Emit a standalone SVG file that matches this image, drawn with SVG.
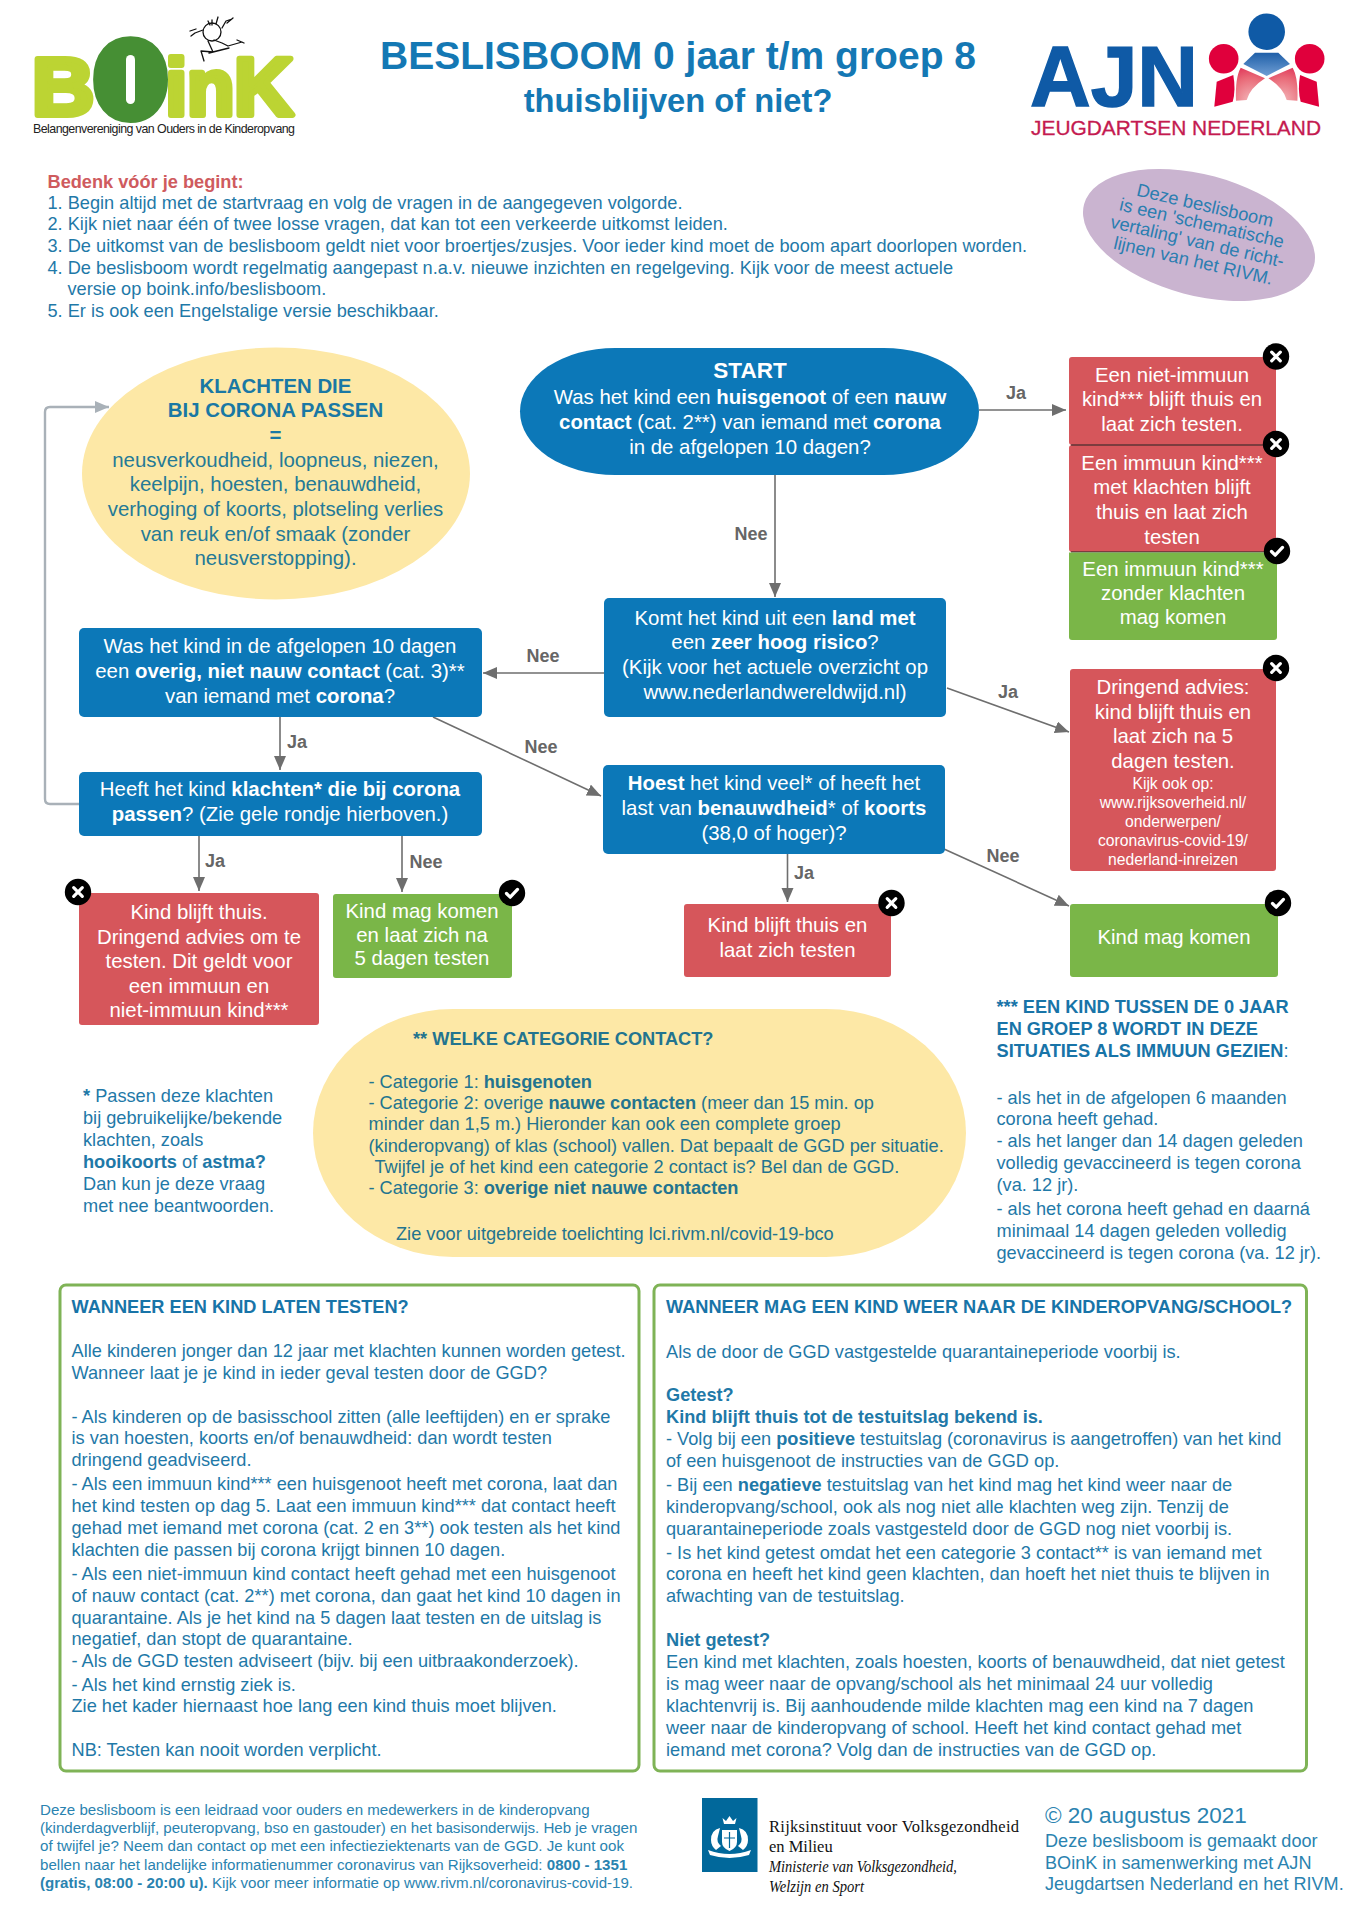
<svg xmlns="http://www.w3.org/2000/svg" width="1357" height="1920" viewBox="0 0 1357 1920">
<style>
text{font-family:"Liberation Sans",Arial,sans-serif}
.b{font-weight:700}
.n{font-size:20.4px;fill:#fff;text-anchor:middle}
.s{font-size:15.7px;fill:#fff;text-anchor:middle}
.y{font-size:20.4px;fill:#257a96;text-anchor:middle}
.yh{font-weight:700;fill:#1a78a4}
.t{font-size:18.2px;fill:#1f79a8}
.ty{font-size:18.2px;fill:#23748f}
.h{font-size:18.2px;font-weight:700;fill:#1874a8}
.f{font-size:15.1px;fill:#2a83b0}
.c{font-size:18.1px;fill:#2a83b0}
.l{font-size:18px;font-weight:700;fill:#666;text-anchor:middle}
.nt{font-size:18.2px;fill:#2b7eb0;text-anchor:middle}
.blue{fill:#0c78b8}.red{fill:#d6565b}.green{fill:#7ab648}.yel{fill:#fde8a6}
.cn{fill:none;stroke:#6e6e6e;stroke-width:1.6;marker-end:url(#a)}
.lp{fill:none;stroke:#a9b1b8;stroke-width:2.4;marker-end:url(#g)}
.bd{fill:#000}
.x{fill:none;stroke:#fff;stroke-width:3.2;stroke-linecap:round}
.v{fill:none;stroke:#fff;stroke-width:3.2;stroke-linecap:round;stroke-linejoin:round}
.p{fill:#fff;stroke:#7fb356;stroke-width:3}
.rv{font-family:"Liberation Serif",serif;font-size:16.5px;fill:#111}
.lime{fill:#bcd433;stroke:#bcd433;stroke-width:6;font-weight:700;stroke-linejoin:round}
</style>
<defs>
<marker id="a" markerUnits="userSpaceOnUse" markerWidth="16" markerHeight="14" refX="14" refY="6" orient="auto"><path d="M0 0L14 6L0 12Z" fill="#6e6e6e"/></marker>
<marker id="g" markerUnits="userSpaceOnUse" markerWidth="16" markerHeight="14" refX="14" refY="6" orient="auto"><path d="M0 0L14 6L0 12Z" fill="#a9b1b8"/></marker>
<symbol id="no" overflow="visible"><circle r="13.2" class="bd"/><path d="M-4.3-4.3L4.3 4.3M4.3-4.3L-4.3 4.3" class="x"/></symbol>
<symbol id="ok" overflow="visible"><circle r="13.2" class="bd"/><path d="M-5.5 .5L-1.8 4.2L5.5-3.6" class="v"/></symbol>
<linearGradient id="bg" x1="0" y1="0" x2="0" y2="1"><stop offset="0" stop-color="#1f5fa8"/><stop offset="1" stop-color="#6f9ed4"/></linearGradient>
<radialGradient id="pg" cx=".5" cy="1" r="1"><stop offset="0" stop-color="#f3b5b8"/><stop offset=".7" stop-color="#e96a78"/><stop offset="1" stop-color="#e2405f"/></radialGradient>
</defs>
<rect width="1357" height="1920" fill="#fff"/>

<g id="logo-boink">
<text class="lime" transform="translate(32 115) scale(1.05 1)" font-size="82">B</text>
<text class="lime" transform="translate(165.5 115) scale(.97 1)" font-size="80">in</text>
<text class="lime" transform="translate(234 115)" font-size="82">K</text>
<text transform="translate(101.5 109) scale(.88 1)" font-size="85" font-weight="700" fill="#468f34" stroke="#468f34" stroke-width="26" stroke-linejoin="round">O</text>
<rect x="126" y="55" width="9" height="49" rx="4.5" fill="#fff"/>
<g fill="none" stroke="#111" stroke-width="1.3" stroke-linejoin="round" stroke-linecap="round">
<circle cx="212" cy="32" r="9"/>
<path d="M203 30L195 33L191 36M196 29L190 31M222 28L226 21L232 19M227 23L233 18M214 40L222 43L228 46L242 42M208 41L213 52L201 51L204 61M209 53L221 50L229 48M237 40L244 43M218 17L216 24M212 20L212 25M208 21L210 25"/>
</g>
<text x="33" y="133" font-size="12.4" fill="#222" textLength="262">Belangenvereniging van Ouders in de Kinderopvang</text>
</g>

<g id="logo-ajn">
<text class="b" x="1030" y="106" font-size="86" fill="#0f5aa6" stroke="#0f5aa6" stroke-width="1.5" textLength="168" lengthAdjust="spacingAndGlyphs">AJN</text>
<text x="1031" y="135" font-size="20" fill="#c41a50" stroke="#c41a50" stroke-width=".3" textLength="290" lengthAdjust="spacingAndGlyphs">JEUGDARTSEN NEDERLAND</text>
<circle cx="1266.7" cy="31.7" r="18.3" fill="#0f5aa6"/>
<circle cx="1223.7" cy="58.7" r="14.8" fill="#e0003c"/>
<circle cx="1309.7" cy="58.7" r="14.8" fill="#e0003c"/>
<path d="M1243.3 64L1255 52.7H1278.3L1290 64L1266.7 76Z" fill="url(#bg)"/>
<path d="M1236 100.7Q1235 78 1240.7 67.7L1265 78.3Q1250 88 1246.7 100Z" fill="url(#pg)"/>
<path d="M1297.4 100.7Q1298.4 78 1292.7 67.7L1268.4 78.3Q1283.4 88 1286.7 100Z" fill="url(#pg)"/>
<path d="M1214.3 106.7L1216.7 81.7L1233.3 75Q1236 90 1232.7 101.7Z" fill="#e0003c"/>
<path d="M1319.1 106.7L1316.7 81.7L1300.1 75Q1297.4 90 1300.7 101.7Z" fill="#e0003c"/>
</g>

<g id="title" text-anchor="middle" fill="#1478b4" font-weight="700">
<text x="678" y="69" font-size="39">BESLISBOOM 0 jaar t/m groep 8</text>
<text x="678" y="112" font-size="32.7">thuisblijven of niet?</text>
</g>

<g id="intro">
<text x="47.5" y="187.5" class="b" font-size="18.2" fill="#cf5b5e">Bedenk vóór je begint:</text>
<text class="t" x="47.5" y="208.5">1. Begin altijd met de startvraag en volg de vragen in de aangegeven volgorde.</text>
<text class="t" x="47.5" y="230">2. Kijk niet naar één of twee losse vragen, dat kan tot een verkeerde uitkomst leiden.</text>
<text class="t" x="47.5" y="251.5">3. De uitkomst van de beslisboom geldt niet voor broertjes/zusjes. Voor ieder kind moet de boom apart doorlopen worden.</text>
<text class="t" x="47.5" y="273.5">4. De beslisboom wordt regelmatig aangepast n.a.v. nieuwe inzichten en regelgeving. Kijk voor de meest actuele</text>
<text class="t" x="67.5" y="295">versie op boink.info/beslisboom.</text>
<text class="t" x="47.5" y="317">5. Er is ook een Engelstalige versie beschikbaar.</text>
</g>

<g id="rivm-note">
<ellipse cx="1199" cy="235" rx="119" ry="60.5" transform="rotate(15 1199 235)" fill="#cab4d0"/>
<text class="nt" transform="translate(1203.7 211.3) rotate(13)">Deze beslisboom</text>
<text class="nt" transform="translate(1200.5 229) rotate(13)">is een 'schematische</text>
<text class="nt" transform="translate(1196 247.5) rotate(13)">vertaling' van de richt-</text>
<text class="nt" transform="translate(1192 266.7) rotate(13)">lijnen van het RIVM.</text>
</g>

<g id="connectors">
<path class="cn" d="M979 410H1066"/>
<path class="cn" d="M775 475V597"/>
<path class="cn" d="M604 673H483"/>
<path class="cn" d="M433 717L601 796"/>
<path class="cn" d="M280 717V770"/>
<path class="lp" d="M79 804H50Q45 804 45 799V412Q45 407 50 407H109"/>
<path class="cn" d="M199 836V891"/>
<path class="cn" d="M402 836V892"/>
<path class="cn" d="M947 688L1069 732"/>
<path class="cn" d="M787.5 854V902"/>
<path class="cn" d="M944 849L1069 906"/>
<text class="l" x="1016" y="399">Ja</text>
<text class="l" x="751" y="540">Nee</text>
<text class="l" x="543" y="662">Nee</text>
<text class="l" x="1008" y="698">Ja</text>
<text class="l" x="541" y="753">Nee</text>
<text class="l" x="297" y="748">Ja</text>
<text class="l" x="1003" y="862">Nee</text>
<text class="l" x="804" y="879">Ja</text>
<text class="l" x="215" y="867">Ja</text>
<text class="l" x="426" y="868">Nee</text>
</g>

<g id="klachten">
<ellipse class="yel" cx="276" cy="473.5" rx="194" ry="126"/>
<text class="y yh" x="275.5" y="392.5">KLACHTEN DIE</text>
<text class="y yh" x="275.5" y="417">BIJ CORONA PASSEN</text>
<text class="y yh" x="275.5" y="442">=</text>
<text class="y" x="275.5" y="466.5">neusverkoudheid, loopneus, niezen,</text>
<text class="y" x="275.5" y="491">keelpijn, hoesten, benauwdheid,</text>
<text class="y" x="275.5" y="516">verhoging of koorts, plotseling verlies</text>
<text class="y" x="275.5" y="540.5">van reuk en/of smaak (zonder</text>
<text class="y" x="275.5" y="565">neusverstopping).</text>
</g>

<g id="start">
<rect class="blue" x="520" y="348" width="459" height="127" rx="95" ry="63.5"/>
<text class="n b" x="750" y="378" style="font-size:22.5px">START</text>
<text class="n" x="750" y="404">Was het kind een <tspan class="b">huisgenoot</tspan> of een <tspan class="b">nauw</tspan></text>
<text class="n" x="750" y="429"><tspan class="b">contact</tspan> (cat. 2**) van iemand met <tspan class="b">corona</tspan></text>
<text class="n" x="750" y="454">in de afgelopen 10 dagen?</text>
</g>

<g id="overig">
<rect class="blue" x="79" y="628" width="403" height="89" rx="5"/>
<text class="n" x="280" y="653">Was het kind in de afgelopen 10 dagen</text>
<text class="n" x="280" y="678">een <tspan class="b">overig, niet nauw contact</tspan> (cat. 3)**</text>
<text class="n" x="280" y="702.5">van iemand met <tspan class="b">corona</tspan>?</text>
</g>

<g id="klachten-vraag">
<rect class="blue" x="79" y="772" width="403" height="64" rx="5"/>
<text class="n" x="280" y="796">Heeft het kind <tspan class="b">klachten* die bij corona</tspan></text>
<text class="n" x="280" y="820.5"><tspan class="b">passen</tspan>? (Zie gele rondje hierboven.)</text>
</g>

<g id="thuis-dringend">
<rect class="red" x="79" y="893" width="240" height="132" rx="3"/>
<text class="n" x="199" y="919">Kind blijft thuis.</text>
<text class="n" x="199" y="943.5">Dringend advies om te</text>
<text class="n" x="199" y="968">testen. Dit geldt voor</text>
<text class="n" x="199" y="992.5">een immuun en</text>
<text class="n" x="199" y="1017">niet-immuun kind***</text>
<use href="#no" x="78" y="892"/>
</g>

<g id="mag-testen">
<rect class="green" x="333" y="894" width="179" height="84" rx="3"/>
<text class="n" x="422" y="917.5">Kind mag komen</text>
<text class="n" x="422" y="941.5">en laat zich na</text>
<text class="n" x="422" y="965">5 dagen testen</text>
<use href="#ok" x="512" y="893"/>
</g>

<g id="land">
<rect class="blue" x="604" y="598" width="342" height="119" rx="5"/>
<text class="n" x="775" y="624.5">Komt het kind uit een <tspan class="b">land met</tspan></text>
<text class="n" x="775" y="649">een <tspan class="b">zeer hoog risico</tspan>?</text>
<text class="n" x="775" y="674">(Kijk voor het actuele overzicht op</text>
<text class="n" x="775" y="698.5">www.nederlandwereldwijd.nl)</text>
</g>

<g id="hoest">
<rect class="blue" x="603" y="765" width="342" height="89" rx="5"/>
<text class="n" x="774" y="790"><tspan class="b">Hoest</tspan> het kind veel* of heeft het</text>
<text class="n" x="774" y="815">last van <tspan class="b">benauwdheid</tspan>* of <tspan class="b">koorts</tspan></text>
<text class="n" x="774" y="839.5">(38,0 of hoger)?</text>
</g>

<g id="thuis-testen">
<rect class="red" x="684" y="904" width="207" height="73" rx="3"/>
<text class="n" x="787.5" y="932">Kind blijft thuis en</text>
<text class="n" x="787.5" y="957">laat zich testen</text>
<use href="#no" x="891.5" y="903"/>
</g>

<g id="niet-immuun">
<rect class="red" x="1069" y="357" width="207" height="88" rx="3"/>
<text class="n" x="1172" y="382">Een niet-immuun</text>
<text class="n" x="1172" y="406">kind*** blijft thuis en</text>
<text class="n" x="1172" y="430.5">laat zich testen.</text>
</g>
<g id="immuun-klachten">
<rect class="red" x="1069" y="445" width="207" height="107" rx="3"/>
<path d="M1071 445H1276M1071 552H1276" stroke="#222" stroke-width="1" fill="none"/>
<text class="n" x="1172" y="470">Een immuun kind***</text>
<text class="n" x="1172" y="494">met klachten blijft</text>
<text class="n" x="1172" y="519">thuis en laat zich</text>
<text class="n" x="1172" y="544">testen</text>
</g>
<g id="immuun-geen">
<path class="green" d="M1069 552.5H1277V637a3 3 0 0 1-3 3H1072a3 3 0 0 1-3-3Z"/>
<text class="n" x="1173" y="576">Een immuun kind***</text>
<text class="n" x="1173" y="600">zonder klachten</text>
<text class="n" x="1173" y="624">mag komen</text>
</g>
<g id="badges-rechts">
<use href="#no" x="1276" y="356.5"/>
<use href="#no" x="1276" y="444"/>
<use href="#ok" x="1277" y="551"/>
</g>

<g id="dringend">
<rect class="red" x="1070" y="669" width="206" height="202" rx="3"/>
<text class="n" x="1173" y="694">Dringend advies:</text>
<text class="n" x="1173" y="718.5">kind blijft thuis en</text>
<text class="n" x="1173" y="743">laat zich na 5</text>
<text class="n" x="1173" y="767.5">dagen testen.</text>
<text class="s" x="1173" y="788.5">Kijk ook op:</text>
<text class="s" x="1173" y="807.5">www.rijksoverheid.nl/</text>
<text class="s" x="1173" y="826.5">onderwerpen/</text>
<text class="s" x="1173" y="845.5">coronavirus-covid-19/</text>
<text class="s" x="1173" y="864.5">nederland-inreizen</text>
<use href="#no" x="1276" y="668"/>
</g>

<g id="mag-komen">
<rect class="green" x="1070" y="904" width="208" height="73" rx="3"/>
<text class="n" x="1174" y="944">Kind mag komen</text>
<use href="#ok" x="1278" y="903"/>
</g>

<g id="categorie">
<rect class="yel" x="313" y="1009" width="653" height="248" rx="140" ry="124"/>
<text class="ty b" x="413" y="1044.5">** WELKE CATEGORIE CONTACT?</text>
<text class="ty" x="368.5" y="1088">- Categorie 1: <tspan class="b">huisgenoten</tspan></text>
<text class="ty" x="368.5" y="1109">- Categorie 2: overige <tspan class="b">nauwe contacten</tspan> (meer dan 15 min. op</text>
<text class="ty" x="368.5" y="1130">minder dan 1,5 m.) Hieronder kan ook een complete groep</text>
<text class="ty" x="368.5" y="1151.5">(kinderopvang) of klas (school) vallen. Dat bepaalt de GGD per situatie.</text>
<text class="ty" x="374.5" y="1172.5">Twijfel je of het kind een categorie 2 contact is? Bel dan de GGD.</text>
<text class="ty" x="368.5" y="1193.5">- Categorie 3: <tspan class="b">overige niet nauwe contacten</tspan></text>
<text class="ty" x="396" y="1239.5">Zie voor uitgebreide toelichting lci.rivm.nl/covid-19-bco</text>
</g>

<g id="noot-hooikoorts">
<text class="t" x="83" y="1102"><tspan class="b">*</tspan> Passen deze klachten</text>
<text class="t" x="83" y="1124">bij gebruikelijke/bekende</text>
<text class="t" x="83" y="1146">klachten, zoals</text>
<text class="t" x="83" y="1168"><tspan class="b">hooikoorts</tspan> of <tspan class="b">astma?</tspan></text>
<text class="t" x="83" y="1190">Dan kun je deze vraag</text>
<text class="t" x="83" y="1212">met nee beantwoorden.</text>
</g>

<g id="noot-immuun">
<text class="h" x="996.5" y="1013">*** EEN KIND TUSSEN DE 0 JAAR</text>
<text class="h" x="996.5" y="1035">EN GROEP 8 WORDT IN DEZE</text>
<text class="h" x="996.5" y="1057">SITUATIES ALS IMMUUN GEZIEN<tspan style="font-weight:400">:</tspan></text>
<text class="t" x="996.5" y="1103.5">- als het in de afgelopen 6 maanden</text>
<text class="t" x="996.5" y="1125">corona heeft gehad.</text>
<text class="t" x="996.5" y="1147">- als het langer dan 14 dagen geleden</text>
<text class="t" x="996.5" y="1169">volledig gevaccineerd is tegen corona</text>
<text class="t" x="996.5" y="1191">(va. 12 jr).</text>
<text class="t" x="996.5" y="1215">- als het corona heeft gehad en daarná</text>
<text class="t" x="996.5" y="1237">minimaal 14 dagen geleden volledig</text>
<text class="t" x="996.5" y="1259">gevaccineerd is tegen corona (va. 12 jr).</text>
</g>

<g id="testen">
<rect class="p" x="60" y="1285" width="579" height="486" rx="6"/>
<text class="h" x="71.5" y="1312.5">WANNEER EEN KIND LATEN TESTEN?</text>
<text class="t" x="71.5" y="1357">Alle kinderen jonger dan 12 jaar met klachten kunnen worden getest.</text>
<text class="t" x="71.5" y="1379">Wanneer laat je je kind in ieder geval testen door de GGD?</text>
<text class="t" x="71.5" y="1422.5">- Als kinderen op de basisschool zitten (alle leeftijden) en er sprake</text>
<text class="t" x="71.5" y="1444">is van hoesten, koorts en/of benauwdheid: dan wordt testen</text>
<text class="t" x="71.5" y="1466">dringend geadviseerd.</text>
<text class="t" x="71.5" y="1490">- Als een immuun kind*** een huisgenoot heeft met corona, laat dan</text>
<text class="t" x="71.5" y="1512">het kind testen op dag 5. Laat een immuun kind*** dat contact heeft</text>
<text class="t" x="71.5" y="1534">gehad met iemand met corona (cat. 2 en 3**) ook testen als het kind</text>
<text class="t" x="71.5" y="1555.5">klachten die passen bij corona krijgt binnen 10 dagen.</text>
<text class="t" x="71.5" y="1579.5">- Als een niet-immuun kind contact heeft gehad met een huisgenoot</text>
<text class="t" x="71.5" y="1601.5">of nauw contact (cat. 2**) met corona, dan gaat het kind 10 dagen in</text>
<text class="t" x="71.5" y="1623.5">quarantaine. Als je het kind na 5 dagen laat testen en de uitslag is</text>
<text class="t" x="71.5" y="1645">negatief, dan stopt de quarantaine.</text>
<text class="t" x="71.5" y="1667">- Als de GGD testen adviseert (bijv. bij een uitbraakonderzoek).</text>
<text class="t" x="71.5" y="1690.5">- Als het kind ernstig ziek is.</text>
<text class="t" x="71.5" y="1712">Zie het kader hiernaast hoe lang een kind thuis moet blijven.</text>
<text class="t" x="71.5" y="1756">NB: Testen kan nooit worden verplicht.</text>
</g>

<g id="weer-naar-school">
<rect class="p" x="654" y="1285" width="652.5" height="486" rx="6"/>
<text class="h" x="666" y="1313">WANNEER MAG EEN KIND WEER NAAR DE KINDEROPVANG/SCHOOL?</text>
<text class="t" x="666" y="1358">Als de door de GGD vastgestelde quarantaineperiode voorbij is.</text>
<text class="t b" x="666" y="1401">Getest?</text>
<text class="t b" x="666" y="1423">Kind blijft thuis tot de testuitslag bekend is.</text>
<text class="t" x="666" y="1445">- Volg bij een <tspan class="b">positieve</tspan> testuitslag (coronavirus is aangetroffen) van het kind</text>
<text class="t" x="666" y="1467">of een huisgenoot de instructies van de GGD op.</text>
<text class="t" x="666" y="1491">- Bij een <tspan class="b">negatieve</tspan> testuitslag van het kind mag het kind weer naar de</text>
<text class="t" x="666" y="1513">kinderopvang/school, ook als nog niet alle klachten weg zijn. Tenzij de</text>
<text class="t" x="666" y="1535">quarantaineperiode zoals vastgesteld door de GGD nog niet voorbij is.</text>
<text class="t" x="666" y="1558.5">- Is het kind getest omdat het een categorie 3 contact** is van iemand met</text>
<text class="t" x="666" y="1580">corona en heeft het kind geen klachten, dan hoeft het niet thuis te blijven in</text>
<text class="t" x="666" y="1602">afwachting van de testuitslag.</text>
<text class="t b" x="666" y="1645.5">Niet getest?</text>
<text class="t" x="666" y="1668">Een kind met klachten, zoals hoesten, koorts of benauwdheid, dat niet getest</text>
<text class="t" x="666" y="1690">is mag weer naar de opvang/school als het minimaal 24 uur volledig</text>
<text class="t" x="666" y="1712">klachtenvrij is. Bij aanhoudende milde klachten mag een kind na 7 dagen</text>
<text class="t" x="666" y="1734">weer naar de kinderopvang of school. Heeft het kind contact gehad met</text>
<text class="t" x="666" y="1756">iemand met corona? Volg dan de instructies van de GGD op.</text>
</g>

<g id="footer">
<text class="f" x="40" y="1814.5">Deze beslisboom is een leidraad voor ouders en medewerkers in de kinderopvang</text>
<text class="f" x="40" y="1833">(kinderdagverblijf, peuteropvang, bso en gastouder) en het basisonderwijs. Heb je vragen</text>
<text class="f" x="40" y="1851">of twijfel je? Neem dan contact op met een infectieziektenarts van de GGD. Je kunt ook</text>
<text class="f" x="40" y="1870">bellen naar het landelijke informatienummer coronavirus van Rijksoverheid: <tspan class="b">0800 - 1351</tspan></text>
<text class="f" x="40" y="1888"><tspan class="b">(gratis, 08:00 - 20:00 u).</tspan> Kijk voor meer informatie op www.rivm.nl/coronavirus-covid-19.</text>
</g>

<g id="logo-rivm">
<rect x="702" y="1798" width="55.5" height="74" fill="#01689b"/>
<g fill="#fff">
<path d="M724 1824L722.5 1818L726 1821L729.5 1816L733 1821L736.5 1818L735 1824Z"/>
<path d="M722 1830H737V1842Q737 1848 729.5 1851Q722 1848 722 1842Z"/>
<path d="M720 1828Q711 1830 711 1840Q711 1846 716 1850L721 1846Q716 1842 718 1836ZM739 1828Q748 1830 748 1840Q748 1846 743 1850L738 1846Q743 1842 741 1836Z"/>
<path d="M708 1850Q729.5 1858 751 1850L749 1855Q729.5 1861 710 1855Z"/>
</g>
<path d="M729.5 1832V1848M724 1838H735" stroke="#01689b" stroke-width="1.2"/>
<text class="rv" x="769" y="1832" textLength="250">Rijksinstituut voor Volksgezondheid</text>
<text class="rv" x="769" y="1852">en Milieu</text>
<text class="rv" x="769" y="1872" font-style="italic" textLength="188" lengthAdjust="spacingAndGlyphs">Ministerie van Volksgezondheid,</text>
<text class="rv" x="769" y="1892" font-style="italic" textLength="95" lengthAdjust="spacingAndGlyphs">Welzijn en Sport</text>
</g>

<g id="colofon">
<text x="1045" y="1823" font-size="22.5" fill="#2a83b0">© 20 augustus 2021</text>
<text class="c" x="1045" y="1847">Deze beslisboom is gemaakt door</text>
<text class="c" x="1045" y="1868.5">BOinK in samenwerking met AJN</text>
<text class="c" x="1045" y="1890">Jeugdartsen Nederland en het RIVM.</text>
</g>
</svg>
